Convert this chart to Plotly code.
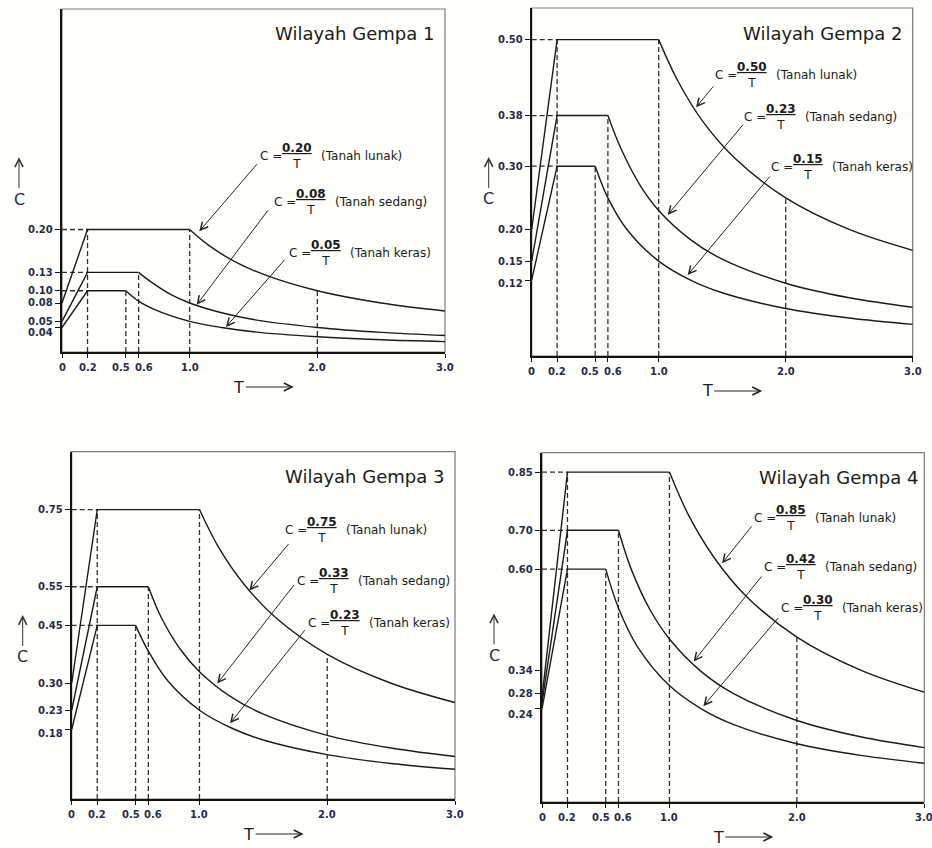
import plotly.graph_objects as go

# ---------------- data ----------------
X_TICKS = [0.0, 0.2, 0.5, 0.6, 1.0, 2.0, 3.0]
X_TICK_TEXT = ["0", "0.2", "0.5", "0.6", "1.0", "2.0", "3.0"]

SOIL_NAMES = ["Tanah lunak", "Tanah sedang", "Tanah keras"]
T_CORNER = 0.2
TC = [1.0, 0.6, 0.5]  # end of plateau for lunak, sedang, keras
T_DECAY_LUNAK = [1.0, 1.15, 1.35, 1.6, 2.0, 2.5, 3.0]
T_DECAY_SEDANG = [0.6, 0.7, 0.85, 1.0, 1.25, 1.5, 2.0, 2.5, 3.0]
T_DECAY_KERAS = [0.5, 0.6, 0.75, 1.0, 1.25, 1.5, 2.0, 2.5, 3.0]

W1_TITLE = "Wilayah Gempa 1"
W1_A0 = [0.08, 0.05, 0.04]
W1_AM = [0.20, 0.13, 0.10]
W1_AR = ["0.20", "0.08", "0.05"]
W1_LUNAK = [0.20, 0.174, 0.148, 0.125, 0.10, 0.08, 0.067]
W1_SEDANG = [0.13, 0.114, 0.094, 0.08, 0.064, 0.053, 0.04, 0.032, 0.027]
W1_KERAS = [0.10, 0.083, 0.067, 0.05, 0.04, 0.033, 0.025, 0.02, 0.017]
W1_YTICKS = [0.04, 0.05, 0.08, 0.10, 0.13, 0.20]
W1_YTICK_TEXT = ["0.04", "0.05", "0.08", "0.10", "0.13", "0.20"]

W2_TITLE = "Wilayah Gempa 2"
W2_A0 = [0.20, 0.15, 0.12]
W2_AM = [0.50, 0.38, 0.30]
W2_AR = ["0.50", "0.23", "0.15"]
W2_LUNAK = [0.50, 0.435, 0.370, 0.3125, 0.25, 0.20, 0.167]
W2_SEDANG = [0.38, 0.329, 0.271, 0.23, 0.184, 0.153, 0.115, 0.092, 0.077]
W2_KERAS = [0.30, 0.25, 0.20, 0.15, 0.12, 0.10, 0.075, 0.06, 0.05]
W2_YTICKS = [0.12, 0.15, 0.20, 0.30, 0.38, 0.50]
W2_YTICK_TEXT = ["0.12", "0.15", "0.20", "0.30", "0.38", "0.50"]

W3_TITLE = "Wilayah Gempa 3"
W3_A0 = [0.30, 0.23, 0.18]
W3_AM = [0.75, 0.55, 0.45]
W3_AR = ["0.75", "0.33", "0.23"]
W3_LUNAK = [0.75, 0.652, 0.556, 0.469, 0.375, 0.30, 0.25]
W3_SEDANG = [0.55, 0.471, 0.388, 0.33, 0.264, 0.22, 0.165, 0.132, 0.11]
W3_KERAS = [0.45, 0.383, 0.307, 0.23, 0.184, 0.153, 0.115, 0.092, 0.077]
W3_YTICKS = [0.18, 0.23, 0.30, 0.45, 0.55, 0.75]
W3_YTICK_TEXT = ["0.18", "0.23", "0.30", "0.45", "0.55", "0.75"]

W4_TITLE = "Wilayah Gempa 4"
W4_A0 = [0.27, 0.255, 0.24]
W4_AM = [0.85, 0.70, 0.60]
W4_AR = ["0.85", "0.42", "0.30"]
W4_LUNAK = [0.85, 0.739, 0.630, 0.531, 0.425, 0.34, 0.283]
W4_SEDANG = [0.70, 0.60, 0.494, 0.42, 0.336, 0.28, 0.21, 0.168, 0.14]
W4_KERAS = [0.60, 0.50, 0.40, 0.30, 0.24, 0.20, 0.15, 0.12, 0.10]
W4_YTICKS = [0.24, 0.28, 0.34, 0.60, 0.70, 0.85]
W4_YTICK_TEXT = ["0.24", "0.28", "0.34", "0.60", "0.70", "0.85"]

# ---------------- layout / style settings ----------------
W, H = 932, 848
PANELS = [
    dict(title=W1_TITLE, a0=W1_A0, am=W1_AM, ar=W1_AR,
         decay=[W1_LUNAK, W1_SEDANG, W1_KERAS],
         yticks=W1_YTICKS, yticktext=W1_YTICK_TEXT,
         px_x=(62, 445), px_y=(9, 352), yrange=(0, 0.56),
         arrows=[(1.075, 0.197, 1.537, 0.309), (1.055, 0.077, 1.623, 0.234), (1.284, 0.041, 1.754, 0.153)],
         labels=[(1.537, 0.320), (1.644, 0.245), (1.762, 0.161)],
         ynudge={0: -5}, title_dx=-9, c_head=0.568, c_dx=-43),
    dict(title=W2_TITLE, a0=W2_A0, am=W2_AM, ar=W2_AR,
         decay=[W2_LUNAK, W2_SEDANG, W2_KERAS],
         yticks=W2_YTICKS, yticktext=W2_YTICK_TEXT,
         px_x=(531.7, 912.7), px_y=(8, 356), yrange=(0, 0.55),
         arrows=[(1.294, 0.393, 1.438, 0.428), (1.071, 0.223, 1.674, 0.368), (1.228, 0.128, 1.884, 0.286)],
         labels=[(1.425, 0.444), (1.656, 0.377), (1.871, 0.299)],
         ynudge={0: -3}, title_dx=-9, c_head=0.572, c_dx=-43),
    dict(title=W3_TITLE, a0=W3_A0, am=W3_AM, ar=W3_AR,
         decay=[W3_LUNAK, W3_SEDANG, W3_KERAS],
         yticks=W3_YTICKS, yticktext=W3_YTICK_TEXT,
         px_x=(71.7, 455), px_y=(451.7, 799), yrange=(0, 0.9),
         arrows=[(1.39, 0.540, 1.708, 0.665), (1.139, 0.299, 1.748, 0.558), (1.239, 0.196, 1.833, 0.441)],
         labels=[(1.656, 0.697), (1.747, 0.566), (1.833, 0.456)],
         ynudge={0: -4}, title_dx=-9, c_head=0.53, c_dx=-49),
    dict(title=W4_TITLE, a0=W4_A0, am=W4_AM, ar=W4_AR,
         decay=[W4_LUNAK, W4_SEDANG, W4_KERAS],
         yticks=W4_YTICKS, yticktext=W4_YTICK_TEXT,
         px_x=(542, 924.3), px_y=(452.7, 802), yrange=(0, 0.9),
         arrows=[(1.413, 0.615, 1.654, 0.714), (1.19, 0.362, 1.732, 0.585), (1.266, 0.247, 1.863, 0.478)],
         labels=[(1.648, 0.733), (1.727, 0.606), (1.858, 0.499)],
         ynudge={0: -6}, title_dx=-4, c_head=0.54, c_dx=-48),
]
X_NUDGE = {2: -5, 3: 5}
T_DECAYS = [T_DECAY_LUNAK, T_DECAY_SEDANG, T_DECAY_KERAS]

CURVE_COLOR = "#1a1a1a"
DASH_COLOR = "#2e2e2e"
LABEL_COLOR = "#1f2b4d"
FONT = "DejaVu Sans"

fig = go.Figure()
annotations = []
shapes = []
layout_axes = {}

for i, p in enumerate(PANELS):
    n = "" if i == 0 else str(i + 1)
    xa, ya = "x" + n, "y" + n
    xdom = [p["px_x"][0] / W, p["px_x"][1] / W]
    ydom = [1 - p["px_y"][1] / H, 1 - p["px_y"][0] / H]

    layout_axes["xaxis" + n] = dict(
        domain=xdom, anchor=ya, range=[0, 3.0], showgrid=False, zeroline=False,
        showline=True, linecolor="#111", linewidth=1.6,
        tickmode="array", tickvals=X_TICKS, showticklabels=False,
        ticks="outside", ticklen=4, tickcolor="#111", tickwidth=1.2, fixedrange=True)
    layout_axes["yaxis" + n] = dict(
        domain=ydom, anchor=xa, range=list(p["yrange"]), showgrid=False, zeroline=False,
        showline=True, linecolor="#111", linewidth=1.8,
        tickmode="array", tickvals=p["yticks"], showticklabels=False,
        ticks="outside", ticklen=5, tickcolor="#111", tickwidth=1.2, fixedrange=True)

    # frame (top/right in grey)
    shapes.append(dict(type="rect", xref=xa + " domain", yref=ya + " domain",
                       x0=0, x1=1, y0=0, y1=1, line=dict(color="#7a7a7a", width=1.2),
                       layer="below"))

    # dashed guide lines
    dx, dy = [], []
    for j in range(3):
        dx += [0, T_CORNER, None]
        dy += [p["am"][j], p["am"][j], None]
        dx += [TC[j], TC[j], None]
        dy += [0, p["am"][j], None]
    dx += [T_CORNER, T_CORNER, None]
    dy += [0, max(p["am"]), None]
    k2 = T_DECAY_LUNAK.index(2.0)
    dx += [2.0, 2.0, None]
    dy += [0, p["decay"][0][k2], None]
    fig.add_trace(go.Scatter(x=dx, y=dy, xaxis=xa, yaxis=ya, mode="lines",
                             line=dict(color=DASH_COLOR, width=1.3, dash="5px,3px"),
                             hoverinfo="skip", showlegend=False))

    # spectrum curves
    for j in range(3):
        fig.add_trace(go.Scatter(x=[0, T_CORNER, TC[j]], y=[p["a0"][j], p["am"][j], p["am"][j]],
                                 xaxis=xa, yaxis=ya, mode="lines",
                                 line=dict(color=CURVE_COLOR, width=1.4),
                                 name=SOIL_NAMES[j], showlegend=False))
        fig.add_trace(go.Scatter(x=T_DECAYS[j], y=p["decay"][j], xaxis=xa, yaxis=ya, mode="lines",
                                 line=dict(color=CURVE_COLOR, width=1.4, shape="spline", smoothing=1.0),
                                 name=SOIL_NAMES[j], showlegend=False))

    # y tick labels
    for k, (v, t) in enumerate(zip(p["yticks"], p["yticktext"])):
        annotations.append(dict(x=0, xref=xa + " domain", y=v, yref=ya, text=t,
                                showarrow=False, xanchor="right", yanchor="middle",
                                xshift=-7, yshift=p["ynudge"].get(k, 0),
                                font=dict(family=FONT, size=10, color=LABEL_COLOR, weight="bold")))
    # x tick labels
    for k, (v, t) in enumerate(zip(X_TICKS, X_TICK_TEXT)):
        annotations.append(dict(x=v, xref=xa, y=0, yref=ya + " domain", text=t,
                                showarrow=False, xanchor="center", yanchor="top",
                                yshift=-8, xshift=X_NUDGE.get(k, 0),
                                font=dict(family=FONT, size=10, color=LABEL_COLOR, weight="bold")))

    # panel title
    annotations.append(dict(x=1, xref=xa + " domain", y=1, yref=ya + " domain",
                            text=p["title"], showarrow=False, xanchor="right", yanchor="middle",
                            xshift=p["title_dx"], yshift=-25,
                            font=dict(family=FONT, size=18, color="#1a1a1a")))

    # axis names with arrows
    annotations.append(dict(x=0, xref=xa + " domain", y=p["c_head"], yref=ya + " domain",
                            text="C", showarrow=True,
                            ax=0, ay=42, xshift=p["c_dx"], arrowhead=5, arrowsize=1.6, arrowwidth=1,
                            arrowcolor="#333", font=dict(family=FONT, size=16, color=LABEL_COLOR)))
    annotations.append(dict(x=0.605, xref=xa + " domain", y=0, yref=ya + " domain",
                            text="T", showarrow=True, ax=-55, ay=0, yshift=-35,
                            arrowhead=5, arrowsize=1.6, arrowwidth=1, arrowcolor="#222",
                            font=dict(family=FONT, size=16, color="#1a1a2e")))

    # equation labels with pointer arrows
    for j in range(3):
        hx, hy, tx, ty = p["arrows"][j]
        annotations.append(dict(x=hx, y=hy, xref=xa, yref=ya, ax=tx, ay=ty,
                                axref=xa, ayref=ya, text="", showarrow=True,
                                arrowhead=5, arrowsize=1.5, arrowwidth=1, arrowcolor="#222"))
        lx, ly = p["labels"][j]
        f = dict(family=FONT, size=12, color="#1a1a1a")
        annotations.append(dict(x=lx, y=ly, xref=xa, yref=ya, text="C =", showarrow=False,
                                xanchor="left", yanchor="middle", font=f))
        annotations.append(dict(x=lx, y=ly, xref=xa, yref=ya,
                                text="<u><b>" + p["ar"][j] + "</b></u><br>T", showarrow=False,
                                xanchor="center", yanchor="middle", xshift=39, font=f))
        annotations.append(dict(x=lx, y=ly, xref=xa, yref=ya,
                                text="(" + SOIL_NAMES[j] + ")", showarrow=False,
                                xanchor="left", yanchor="middle", xshift=61, font=f))

fig.update_layout(
    width=W, height=H, margin=dict(l=0, r=0, t=0, b=0),
    paper_bgcolor="#fffffb", plot_bgcolor="#fffffb",
    showlegend=False, annotations=annotations, shapes=shapes,
    **layout_axes)

fig.write_html("out.html", config={"displayModeBar": False},
               post_script="document.body.style.margin='0';document.body.style.padding='0';"
                           "document.body.style.overflow='hidden';")
